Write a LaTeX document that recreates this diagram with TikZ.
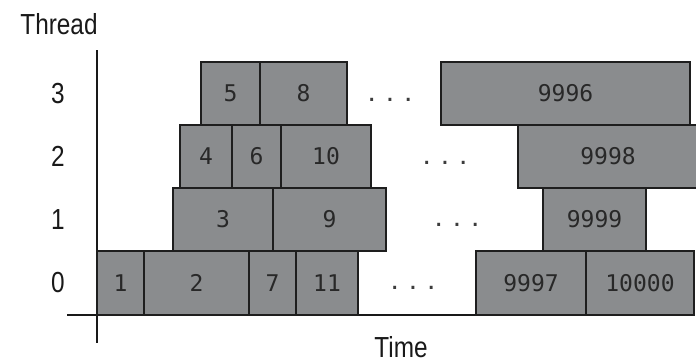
\documentclass[tikz,border=0pt]{standalone}
\usepackage{fontspec}
\newfontfamily\labfont[FakeStretch=0.84]{Liberation Sans}
\newfontfamily\numfont{DejaVu Sans Mono}
\newfontfamily\dotfont{Liberation Sans}
\definecolor{boxfill}{RGB}{138,140,142}
\definecolor{boxline}{RGB}{30,30,30}
\definecolor{numcol}{RGB}{40,40,40}
\definecolor{labcol}{RGB}{25,25,25}
\definecolor{dotcol}{RGB}{60,60,60}
\begin{document}
\begin{tikzpicture}[x=1pt,y=-1pt,
  tbox/.style={draw=boxline, fill=boxfill, line width=1.9pt, inner sep=0pt,
    minimum height=63pt, text=numcol, font=\numfont\fontsize{23}{23}\selectfont},
  rowlab/.style={text=labcol, inner sep=0pt, font=\labfont\fontsize{29}{29}\selectfont},
  dots/.style={text=dotcol, inner sep=0pt, font=\dotfont\fontsize{30}{30}\selectfont},
  axis/.style={draw=labcol, line width=1.9pt}]
\useasboundingbox (0,0) rectangle (696,362);
% axes
\coordinate (yt) at (97,50);
\coordinate (yb) at (97,343);
\coordinate (xl) at (67,315);
\coordinate (xr) at (497,315);
\draw[axis] (yt) -- (yb);
\draw[axis] (xl) -- (xr);
% labels
\node[rowlab] (lthread) at (59,24) {Thread};
\node[rowlab] (ltime) at (401,347) {Time};
\node[rowlab] (l3) at (58,93.5) {3};
\node[rowlab] (l2) at (58,156.5) {2};
\node[rowlab] (l1) at (58,219.5) {1};
\node[rowlab] (l0) at (58,283) {0};
% row 3 (62-125)
\node[tbox, minimum width=59pt] (b5) at (230.5,93.5) {5};
\node[tbox, minimum width=87pt] (b8) at (303.5,93.5) {8};
\node[tbox, minimum width=249pt] (b9996) at (565.5,93.5) {9996};
% row 2 (125-188)
\node[tbox, minimum width=52pt] (b4) at (206,156.5) {4};
\node[tbox, minimum width=49pt] (b6) at (256.5,156.5) {6};
\node[tbox, minimum width=90pt] (b10) at (326,156.5) {10};
\node[tbox, minimum width=180pt] (b9998) at (608,156.5) {9998};
% row 1 (188-251)
\node[tbox, minimum width=100pt] (b3) at (223,219.5) {3};
\node[tbox, minimum width=113pt] (b9) at (329.5,219.5) {9};
\node[tbox, minimum width=103pt] (b9999) at (594.5,219.5) {9999};
% row 0 (251-315)
\node[tbox, minimum width=47pt, minimum height=64pt] (b1) at (120.5,283) {1};
\node[tbox, minimum width=105pt, minimum height=64pt] (b2) at (196.5,283) {2};
\node[tbox, minimum width=47pt, minimum height=64pt] (b7) at (272.5,283) {7};
\node[tbox, minimum width=62pt, minimum height=64pt] (b11) at (327,283) {11};
\node[tbox, minimum width=110pt, minimum height=64pt] (b9997) at (531,283) {9997};
\node[tbox, minimum width=108pt, minimum height=64pt] (b10000) at (640,283) {10000};
% dots
\node[dots] (d3) at (390,100) {.\,\,.\,\,.};
\node[dots] (d2) at (445,163) {.\,\,.\,\,.};
\node[dots] (d1) at (457,225) {.\,\,.\,\,.};
\node[dots] (d0) at (413,288) {.\,\,.\,\,.};
\end{tikzpicture}
\end{document}
